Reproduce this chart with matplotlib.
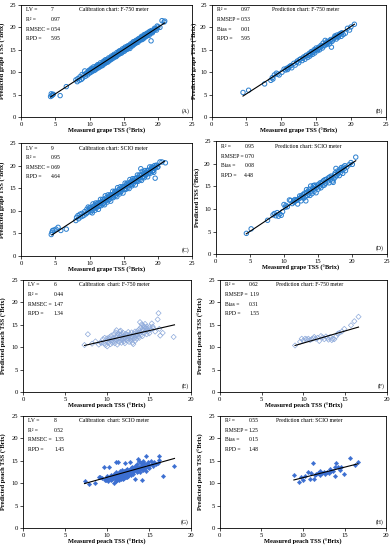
import matplotlib.pyplot as plt

plt.rcParams['font.family'] = ['Liberation Serif', 'DejaVu Serif']

# ---- (A) grape, calibration, F-750 ----
a_x = [4.3, 4.4, 4.5, 4.6, 4.7, 5.7, 6.6, 8.0, 8.2, 8.3, 8.5, 8.6, 8.8, 8.9, 9.0, 9.2, 9.3, 9.4, 9.6, 9.7,
       9.9, 10.0, 10.1, 10.2, 10.3, 10.4, 10.5, 10.6, 10.7, 10.8, 10.9, 11.0, 11.1, 11.2, 11.3, 11.4, 11.5,
       11.6, 11.7, 11.8, 11.9, 12.0, 12.1, 12.2, 12.3, 12.4, 12.5, 12.6, 12.7, 12.8, 12.9, 13.0, 13.1, 13.2,
       13.3, 13.4, 13.5, 13.6, 13.7, 13.8, 13.9, 14.0, 14.1, 14.2, 14.3, 14.4, 14.5, 14.6, 14.7, 14.8, 14.9,
       15.0, 15.1, 15.2, 15.3, 15.4, 15.5, 15.6, 15.7, 15.8, 15.9, 16.0, 16.1, 16.2, 16.3, 16.4, 16.5, 16.6,
       16.7, 16.8, 16.9, 17.0, 17.1, 17.2, 17.3, 17.4, 17.5, 17.6, 17.7, 17.8, 17.9, 18.0, 18.1, 18.2, 18.3,
       18.4, 18.5, 18.6, 18.7, 18.8, 18.9, 19.0, 19.1, 19.2, 19.4, 19.6, 19.8, 20.0, 20.3, 20.6, 20.9, 21.0,
       11.05, 12.05, 12.45, 13.05, 13.45, 13.85, 14.05, 14.25, 14.55, 14.85, 15.05, 15.25, 15.45, 15.65,
       15.85, 16.05, 16.25, 16.45, 16.65, 16.85, 17.05, 17.25, 17.45, 17.65, 17.85, 18.05, 18.25, 18.45,
       18.65, 18.85, 19.05, 19.25, 19.5, 19.7, 19.9, 10.45, 10.85, 11.25, 11.65, 12.25, 12.65, 13.25, 13.65,
       9.5, 9.8, 10.15]
a_y = [4.6, 5.2, 4.8, 5.0, 5.1, 4.8, 6.8, 8.3, 7.9, 8.6, 8.2, 9.0, 8.4, 9.5, 8.7, 9.4, 10.3, 9.1, 9.9, 9.4,
       10.4, 9.8, 10.6, 10.0, 10.9, 10.2, 10.7, 11.2, 10.4, 11.0, 10.6, 11.4, 10.9, 11.7, 11.0, 11.6, 11.2,
       12.1, 11.4, 11.9, 11.5, 12.4, 11.8, 12.3, 12.0, 12.8, 12.2, 12.6, 12.3, 13.2, 12.6, 13.1, 12.8, 13.6,
       13.0, 13.5, 13.2, 14.0, 13.4, 13.9, 13.5, 14.4, 13.8, 14.3, 14.0, 14.8, 14.2, 14.6, 14.3, 15.2, 14.6,
       15.0, 14.7, 15.6, 15.0, 15.4, 15.1, 15.9, 15.4, 15.8, 15.3, 16.3, 15.8, 16.2, 15.9, 16.8, 16.2, 16.5,
       16.4, 17.1, 16.6, 17.0, 16.7, 17.5, 17.1, 17.4, 17.2, 18.0, 17.3, 17.8, 17.5, 18.4, 17.8, 18.2, 18.0,
       18.7, 18.3, 18.6, 18.2, 19.1, 18.6, 17.0, 19.0, 18.8, 19.3, 19.6, 19.4, 20.1, 20.0, 21.5, 21.2, 21.4,
       11.3, 12.0, 12.5, 12.9, 13.7, 13.6, 14.1, 14.6, 14.4, 14.9, 15.3, 15.2, 15.7, 15.5,
       16.0, 16.0, 16.5, 16.3, 16.9, 16.8, 17.3, 17.2, 17.7, 17.6, 18.1, 18.0, 18.5, 18.4,
       18.9, 18.8, 19.3, 19.1, 19.8, 19.7, 20.3, 10.6, 10.8, 11.4, 11.7, 12.7, 12.9, 13.3, 13.8,
       9.7, 10.1, 10.3]
a_fit_x = [4.3, 21.0]
a_fit_y = [4.5, 21.0]

# ---- (B) grape, prediction, F-750 ----
b_x = [4.5, 5.3, 7.6, 8.5, 8.7, 9.0, 9.3, 9.7, 10.1, 10.4, 10.6, 10.9, 11.2, 11.5, 11.8, 12.0, 12.3, 12.5,
       12.8, 13.0, 13.2, 13.4, 13.6, 13.8, 14.0, 14.1, 14.3, 14.5, 14.7, 14.8, 15.0, 15.2, 15.4, 15.5, 15.7,
       15.9, 16.0, 16.2, 16.3, 16.5, 16.7, 16.9, 17.0, 17.2, 17.4, 17.6, 17.7, 17.9, 18.0, 18.2, 18.4, 18.6,
       18.7, 18.9, 19.2, 19.5, 19.8, 20.0, 20.5,
       12.6, 13.1, 13.5, 13.9, 14.2, 14.4, 14.6, 14.9, 15.1, 15.3, 15.6, 15.8, 16.1, 16.4, 16.6, 16.8, 17.1,
       17.3, 17.5, 17.8, 18.1, 18.3, 18.5, 11.0, 11.4, 10.8, 12.2, 9.5, 8.8]
b_y = [5.5, 6.0, 7.4, 8.2, 8.8, 9.4, 9.8, 9.4, 10.0, 10.7, 10.5, 10.6, 11.3, 11.0, 12.0, 11.6, 12.5, 12.1,
       13.0, 12.6, 13.4, 12.9, 13.8, 13.3, 14.2, 13.6, 14.6, 14.0, 15.0, 14.3, 15.4, 14.8, 15.6, 15.0, 16.0,
       15.4, 16.5, 15.9, 17.1, 16.2, 16.6, 16.3, 17.0, 15.6, 17.2, 17.6, 18.1, 17.4, 18.3, 17.8, 18.5, 18.0,
       18.8, 18.4, 18.7, 19.8, 19.4, 20.1, 20.7,
       12.8, 13.1, 13.6, 13.8, 14.1, 14.4, 14.5, 14.9, 15.1, 15.2, 15.5, 15.8, 16.0, 16.5, 16.9, 16.8, 17.3,
       16.9, 17.5, 17.9, 18.0, 18.3, 18.6, 11.0, 11.5, 10.9, 12.2, 9.6, 8.5]
b_fit_x = [4.5, 20.5]
b_fit_y = [4.7, 20.7]

# ---- (C) grape, calibration, SCIO ----
c_x = [4.4, 4.5, 4.6, 4.8, 5.1, 5.4, 5.8, 6.6,
       8.0, 8.1, 8.3, 8.4, 8.6, 8.7, 8.9, 9.0, 9.2, 9.3, 9.5, 9.6, 9.7, 9.8, 9.9, 10.0,
       10.1, 10.2, 10.3, 10.4, 10.5, 10.6, 10.7, 10.8, 10.9, 11.0, 11.1, 11.2, 11.3, 11.4, 11.5, 11.6, 11.7,
       11.8, 11.9, 12.0, 12.1, 12.2, 12.3, 12.4, 12.5, 12.6, 12.7, 12.8, 12.9, 13.0, 13.1, 13.2, 13.3, 13.4,
       13.5, 13.6, 13.7, 13.8, 13.9, 14.0, 14.1, 14.2, 14.3, 14.4, 14.5, 14.6, 14.7, 14.8, 14.9, 15.0, 15.1,
       15.2, 15.3, 15.4, 15.5, 15.6, 15.7, 15.8, 15.9, 16.0, 16.1, 16.2, 16.3, 16.4, 16.5, 16.6, 16.7, 16.8,
       16.9, 17.0, 17.1, 17.2, 17.3, 17.4, 17.5, 17.6, 17.7, 17.8, 17.9, 18.0, 18.1, 18.2, 18.3, 18.4, 18.5,
       18.6, 18.7, 18.8, 18.9, 19.0, 19.1, 19.2, 19.3, 19.4, 19.5, 19.6, 19.8, 20.0, 20.3, 20.6, 21.1,
       19.6, 17.5,
       10.15, 10.35, 10.55, 10.75, 10.95, 11.15, 11.35, 11.55, 11.75, 11.95, 12.15, 12.35, 12.55, 12.75,
       12.95, 13.15, 13.35, 13.55, 13.75, 13.95, 14.15, 14.35, 14.55, 14.75, 14.95, 15.15, 15.35, 15.55,
       15.75, 15.95, 16.15, 16.35, 16.55, 16.75, 16.95, 17.15, 17.35, 17.55, 17.75, 17.95, 18.15, 18.35,
       18.55, 18.75, 18.95, 19.15, 19.35, 19.55, 19.75, 19.95]
c_y = [4.7, 5.2, 5.6, 5.7, 5.9, 6.3, 5.6, 5.9,
       7.8, 8.5, 8.9, 8.2, 9.2, 8.6, 9.4, 8.8, 9.0, 9.8, 9.3, 10.3, 9.6, 10.8, 9.9, 10.6,
       10.7, 9.7, 10.5, 9.5, 11.5, 10.4, 11.1, 10.1, 11.7, 10.6, 11.1, 11.7, 10.3, 11.7, 11.2, 12.5, 11.1,
       11.9, 12.5, 11.5, 12.3, 11.3, 13.3, 12.2, 12.9, 11.9, 13.5, 12.4, 12.9, 13.5, 12.1, 13.5, 13.0, 14.3,
       12.9, 13.7, 14.3, 13.3, 14.1, 13.1, 15.1, 14.0, 14.7, 13.7, 15.3, 14.2, 14.7, 15.3, 13.9, 15.3, 14.8,
       16.1, 14.7, 15.5, 16.1, 15.1, 15.9, 14.9, 16.9, 15.8, 16.5, 15.5, 17.1, 16.0, 16.5, 17.1, 15.7, 17.1,
       16.6, 17.9, 16.5, 17.3, 17.9, 16.9, 17.7, 16.7, 18.7, 17.6, 18.3, 17.3, 18.9, 17.8, 18.3, 18.9, 17.5,
       18.9, 18.4, 19.7, 18.3, 19.1, 19.7, 18.7, 19.5, 18.5, 20.0, 19.4, 20.1, 19.7, 20.8, 20.8, 20.6,
       17.2, 19.3,
       10.35, 10.05, 10.95, 10.65, 10.95, 11.45, 10.95, 11.65, 11.95, 11.65, 12.55, 12.25, 12.55, 13.05,
       12.55, 13.25, 13.55, 13.25, 14.15, 13.85, 14.15, 14.65, 14.15, 14.85, 15.15, 14.85, 15.75, 15.45,
       15.75, 16.25, 15.75, 16.45, 16.75, 16.45, 17.35, 17.05, 17.35, 17.85, 17.35, 18.05, 18.35, 18.05,
       18.95, 18.65, 18.95, 19.45, 18.95, 19.65, 19.95, 19.65]
c_fit_x = [4.5, 21.0]
c_fit_y = [4.6, 21.0]

# ---- (D) grape, prediction, SCIO ----
d_x = [4.5, 5.2, 7.6, 8.4, 8.6, 8.8, 9.0, 9.2, 9.4, 9.6, 9.8, 10.0, 10.2, 10.3, 10.5, 10.8, 11.0, 11.2,
       11.4, 11.5, 11.6, 11.8, 11.9, 12.0, 12.2, 12.3, 12.4, 12.5, 12.7, 12.8, 12.9, 13.0, 13.1, 13.2, 13.3,
       13.4, 13.5, 13.6, 13.7, 13.8, 13.9, 14.0, 14.1, 14.2, 14.3, 14.4, 14.5, 14.6, 14.7, 14.8, 14.9, 15.0,
       15.1, 15.2, 15.3, 15.4, 15.5, 15.6, 15.7, 15.8, 16.0, 16.1, 16.2, 16.4, 16.5, 16.6, 16.7, 16.8, 17.0,
       17.1, 17.2, 17.3, 17.4, 17.5, 17.6, 17.7, 17.8, 17.9, 18.0, 18.1, 18.2, 18.3, 18.4, 18.5, 18.6, 18.7,
       18.8, 18.9, 19.0, 19.2, 19.5, 19.8, 20.0, 20.5, 14.5, 13.3, 12.6, 15.9, 16.9, 17.5]
d_y = [4.6, 5.6, 7.5, 8.7, 9.0, 8.5, 9.2, 8.4, 8.9, 8.6, 9.4, 11.0, 10.4, 10.8, 10.5, 12.0, 11.9, 11.2,
       11.8, 11.5, 12.1, 11.9, 12.0, 11.1, 12.3, 12.9, 12.5, 11.8, 12.6, 13.2, 12.4, 13.5, 12.7, 11.8, 13.6,
       13.0, 13.9, 13.3, 14.4, 13.0, 15.1, 14.0, 13.4, 14.6, 15.2, 13.9, 14.5, 15.0, 13.6, 14.8, 15.3, 14.4,
       15.5, 15.0, 15.8, 14.7, 15.6, 16.0, 15.2, 16.3, 16.5, 15.7, 16.6, 16.2, 16.9, 15.8, 17.1, 16.5, 17.0,
       16.2, 15.9, 16.7, 17.6, 18.0, 19.0, 17.4, 18.4, 17.8, 18.3, 17.4, 18.8, 18.1, 19.2, 18.6, 17.9, 19.3,
       18.9, 19.6, 18.5, 19.3, 19.8, 20.3, 19.9, 21.5, 15.3, 14.3, 13.0, 15.3, 17.3, 17.1]
d_fit_x = [4.5, 20.5]
d_fit_y = [4.5, 20.7]

# ---- (E) peach, calibration, F-750 ----
e_x = [7.3, 7.7, 8.2, 8.6, 9.0, 9.3, 9.5, 9.6, 9.7, 9.8, 9.9, 10.0, 10.0, 10.1, 10.2, 10.3, 10.4, 10.5,
       10.5, 10.6, 10.7, 10.8, 10.8, 10.9, 11.0, 11.0, 11.1, 11.1, 11.2, 11.2, 11.3, 11.3, 11.4, 11.4, 11.5,
       11.5, 11.6, 11.6, 11.7, 11.7, 11.8, 11.8, 11.9, 11.9, 12.0, 12.0, 12.1, 12.1, 12.2, 12.2, 12.3, 12.4,
       12.4, 12.5, 12.6, 12.6, 12.7, 12.8, 12.8, 12.9, 13.0, 13.0, 13.1, 13.1, 13.2, 13.2, 13.3, 13.3, 13.4,
       13.5, 13.5, 13.6, 13.7, 13.7, 13.8, 13.8, 13.9, 13.9, 14.0, 14.0, 14.1, 14.1, 14.2, 14.2, 14.3, 14.3,
       14.4, 14.5, 14.5, 14.6, 14.7, 14.7, 14.8, 14.9, 15.0, 15.0, 15.2, 15.3, 15.5, 15.7, 16.0, 16.1, 16.2,
       16.3, 16.6, 17.9, 12.5, 11.0, 10.3, 9.2, 12.9, 13.6, 14.4, 11.6, 15.4]
e_y = [10.5, 12.9, 10.8, 11.3, 10.6, 11.0, 11.8, 10.9, 12.1, 10.5, 11.4, 12.0, 10.2, 11.7, 11.1, 12.3,
       10.7, 11.5, 12.6, 11.0, 12.0, 11.4, 12.9, 10.9, 12.2, 13.3, 11.6, 13.8, 12.5, 10.6, 13.1, 11.9, 12.8,
       11.2, 13.5, 12.1, 11.5, 12.7, 13.0, 11.0, 12.4, 11.7, 13.2, 12.0, 11.3, 12.6, 10.9, 12.2, 11.8, 13.0,
       12.4, 11.5, 12.8, 11.9, 12.5, 11.2, 12.9, 12.1, 11.6, 13.3, 12.4, 11.0, 12.7, 10.7, 13.0, 12.0, 11.4,
       13.5, 12.6, 12.9, 11.9, 13.6, 12.4, 13.2, 14.0, 12.1, 13.1, 15.6, 14.4, 12.7, 13.5, 15.1, 14.0, 12.5,
       13.8, 14.8, 13.2, 14.3, 15.2, 13.7, 14.6, 12.9, 14.1, 13.6, 14.5, 13.1, 14.0, 15.3, 14.2, 13.5, 16.2,
       17.6, 14.1, 12.6, 13.2, 12.3, 13.4, 11.8, 11.9, 11.1, 12.2, 12.8, 14.6, 13.7, 14.6]
e_fit_x = [7.3, 18.0]
e_fit_y = [10.4, 15.0]

# ---- (F) peach, prediction, F-750 ----
f_x = [9.0, 9.6, 9.8, 10.0, 10.2, 10.4, 10.6, 10.8, 11.0, 11.2, 11.3, 11.5, 11.7, 11.9, 12.1, 12.3, 12.5,
       12.7, 12.9, 13.0, 13.2, 13.4, 13.5, 13.7, 13.9, 14.1, 14.3, 14.6, 14.9, 15.7, 16.1, 16.6]
f_y = [10.4, 11.2, 11.9, 11.5, 11.9, 11.8, 11.9, 11.6, 11.8, 12.0, 12.3, 11.9, 12.1, 11.4, 12.5, 12.2,
       11.8, 12.4, 12.1, 11.7, 12.3, 11.6, 11.9, 11.8, 12.4, 13.0, 13.2, 13.5, 14.1, 14.9, 15.8, 16.8]
f_fit_x = [9.0, 16.6]
f_fit_y = [10.4, 14.5]

# ---- (G) peach, calibration, SCIO ----
g_x = [7.3, 7.8, 8.6, 9.0, 9.4, 9.6, 9.7, 9.8, 9.9, 10.0, 10.1, 10.2, 10.3, 10.4, 10.5, 10.6, 10.7, 10.8,
       10.8, 10.9, 11.0, 11.0, 11.1, 11.1, 11.2, 11.2, 11.3, 11.3, 11.4, 11.4, 11.5, 11.5, 11.6, 11.6, 11.7,
       11.7, 11.8, 11.8, 11.9, 11.9, 12.0, 12.0, 12.1, 12.1, 12.2, 12.2, 12.3, 12.3, 12.4, 12.4, 12.5, 12.5,
       12.6, 12.6, 12.7, 12.7, 12.8, 12.8, 12.9, 12.9, 13.0, 13.0, 13.1, 13.1, 13.2, 13.2, 13.3, 13.3, 13.4,
       13.4, 13.5, 13.5, 13.6, 13.6, 13.7, 13.7, 13.8, 13.8, 13.9, 13.9, 14.0, 14.0, 14.1, 14.1, 14.2, 14.2,
       14.3, 14.3, 14.4, 14.4, 14.5, 14.6, 14.6, 14.7, 14.8, 14.9, 15.0, 15.0, 15.2, 15.3, 15.5, 15.6, 15.8,
       16.0, 16.1, 16.2, 16.6, 17.9, 10.0, 10.6, 11.4, 12.0, 12.4, 10.9, 9.2]
g_y = [10.4, 9.8, 10.0, 11.3, 11.2, 13.5, 10.6, 11.0, 10.8, 11.5, 10.4, 13.7, 11.1, 10.7, 11.8, 10.9,
       11.4, 10.0, 12.1, 11.0, 14.8, 11.6, 10.5, 12.4, 11.1, 10.8, 14.8, 11.7, 12.2, 10.6, 11.4, 12.6, 11.0,
       12.0, 11.8, 13.0, 11.3, 12.4, 11.9, 10.9, 12.7, 11.6, 14.5, 12.1, 11.4, 12.9, 12.3, 11.8, 13.2, 12.0,
       12.6, 11.5, 12.2, 13.0, 14.6, 12.5, 11.9, 13.3, 12.8, 12.2, 13.6, 12.5, 12.9, 12.0, 13.2, 12.6, 11.0,
       13.8, 12.9, 13.3, 12.4, 13.5, 14.2, 13.0, 15.3, 12.7, 13.6, 14.9, 13.2, 12.5, 14.4, 13.8, 10.7, 13.1,
       14.0, 15.0, 13.5, 12.9, 14.5, 13.9, 13.3, 16.0, 12.7, 14.2, 13.7, 14.8, 14.1, 13.4, 15.0, 14.3, 13.8,
       14.6, 14.3, 14.4, 16.1, 15.2, 11.5, 13.9, 10.9, 11.5, 11.5, 11.2, 11.4, 11.9, 11.4]
g_fit_x = [7.3, 18.0]
g_fit_y = [9.9, 15.5]

# ---- (H) peach, prediction, SCIO ----
h_x = [8.9, 9.5, 9.7, 10.0, 10.2, 10.6, 10.8, 11.0, 11.2, 11.3, 11.4, 11.6, 11.8, 12.0, 12.1, 12.3, 12.5,
       12.7, 12.9, 13.1, 13.3, 13.4, 13.6, 13.8, 13.9, 14.0, 14.2, 14.4, 14.6, 14.9, 15.7, 16.2, 16.6]
h_y = [11.7, 10.3, 11.4, 10.8, 11.5, 12.4, 11.0, 12.2, 14.5, 11.0, 11.8, 12.0, 12.3, 11.9, 12.8, 12.2,
       12.4, 12.1, 12.5, 12.2, 13.2, 12.8, 12.6, 11.6, 13.5, 14.4, 13.6, 13.0, 13.5, 12.0, 15.5, 14.1, 14.8]
h_fit_x = [8.9, 16.6]
h_fit_y = [10.7, 14.3]

cal_stats = ["LV =", "R\u00b2 =", "RMSEC =", "RPD ="]
pred_stats = ["R\u00b2 =", "RMSEP =", "Bias =", "RPD ="]

panels = [
    # rect, x, y, fit x, fit y, marker, stats labels, values, title, tag, xlabel, ylabel, xmax, value col x, ylabel x
    ([0.054, 0.787, 0.436, 0.204], a_x, a_y, a_fit_x, a_fit_y, 'circle', cal_stats,
     ["7", "0.97", "0.54", "5.95"], "Calibration chart: F-750 meter", "(A)",
     "Measured grape TSS (\u00b0Brix)", "Predicted grape TSS (\u00b0Brix)", 25, 0.172, -0.088),
    ([0.540, 0.787, 0.444, 0.204], b_x, b_y, b_fit_x, b_fit_y, 'circle', pred_stats,
     ["0.97", "0.53", "0.01", "5.95"], "Prediction chart: F-750 meter", "(B)",
     "Measured grape TSS (\u00b0Brix)", "Predicted grape TSS (\u00b0Brix)", 25, 0.165, -0.08),
    ([0.054, 0.535, 0.436, 0.205], c_x, c_y, c_fit_x, c_fit_y, 'circle', cal_stats,
     ["9", "0.95", "0.69", "4.64"], "Calibration chart: SCIO meter", "(C)",
     "Measured grape TSS (\u00b0Brix)", "Predicted grape TSS (\u00b0Brix)", 25, 0.172, -0.088),
    ([0.550, 0.538, 0.436, 0.205], d_x, d_y, d_fit_x, d_fit_y, 'circle', pred_stats,
     ["0.95", "0.70", "0.08", "4.48"], "Prediction chart: SCIO meter", "(D)",
     "Measured grape TSS (\u00b0Brix)", "Predicted TSS (\u00b0Brix)", 25, 0.168, -0.088),
    ([0.059, 0.287, 0.429, 0.204], e_x, e_y, e_fit_x, e_fit_y, 'open_diamond', cal_stats,
     ["6", "0.44", "1.47", "1.34"], "Calibration  chart: F-750 meter", "(E)",
     "Measured peach TSS (\u00b0Brix)", "Predicted peach TSS (\u00b0Brix)", 20, 0.18, -0.095),
    ([0.561, 0.287, 0.426, 0.204], f_x, f_y, f_fit_x, f_fit_y, 'open_diamond', pred_stats,
     ["0.62", "1.19", "0.31", "1.55"], "Prediction chart: F-750 meter", "(F)",
     "Measured peach TSS (\u00b0Brix)", "Predicted peach TSS (\u00b0Brix)", 20, 0.175, -0.095),
    ([0.059, 0.040, 0.429, 0.204], g_x, g_y, g_fit_x, g_fit_y, 'filled_diamond', cal_stats,
     ["8", "0.52", "1.35", "1.45"], "Calibration  chart: SCIO meter", "(G)",
     "Measured peach TSS (\u00b0Brix)", "Predicted peach TSS (\u00b0Brix)", 20, 0.185, -0.095),
    ([0.561, 0.040, 0.424, 0.204], h_x, h_y, h_fit_x, h_fit_y, 'filled_diamond', pred_stats,
     ["0.55", "1.25", "0.15", "1.48"], "Prediction chart: SCIO meter", "(H)",
     "Measured peach TSS (\u00b0Brix)", "Predicted peach TSS (\u00b0Brix)", 20, 0.175, -0.095),
]

fig = plt.figure(figsize=(3.92, 5.5), dpi=100)

for rect, xs, ys, fx, fy, mk, labels, values, title, tag, xlab, ylab, xmax, valx, ylx in panels:
    ax = fig.add_axes(rect)
    if mk == 'circle':
        ax.scatter(xs, ys, s=10, marker='o', facecolors='none', edgecolors='#2a7fcf', linewidths=0.7, zorder=2)
    elif mk == 'open_diamond':
        ax.scatter(xs, ys, s=7, marker='D', facecolors='none', edgecolors='#8eaadb', linewidths=0.5, zorder=2)
    else:
        ax.scatter(xs, ys, s=5, marker='D', facecolors='#3c6fd1', edgecolors='#3c6fd1', linewidths=0.3, zorder=2)
    ax.plot(fx, fy, color='black', linewidth=0.8, zorder=3)

    ax.set_xlim(0, xmax)
    ax.set_ylim(0, 25)
    ax.set_xticks(range(0, xmax + 1, 5))
    ax.set_yticks(range(0, 26, 5))
    ax.tick_params(labelsize=4.8, length=2, width=0.5, direction='out', pad=1.5)
    for sp in ax.spines.values():
        sp.set_linewidth(0.6)

    ax.set_xlabel(xlab, fontsize=4.6, fontweight='bold')
    ax.set_ylabel(ylab, fontsize=4.6, fontweight='bold')
    ax.xaxis.set_label_coords(0.5, -0.1)
    ax.yaxis.set_label_coords(ylx, 0.5)

    rows = [0.955, 0.87, 0.785, 0.70]
    for lab, val, yy in zip(labels, values, rows):
        ax.text(0.03, yy, lab, transform=ax.transAxes, fontsize=4.1, va='center')
        ax.text(valx, yy, val, transform=ax.transAxes, fontsize=4.1, va='center')
    ax.text(0.54, 0.955, title, transform=ax.transAxes, fontsize=4.1, va='center', ha='center')
    ax.text(0.985, 0.05, tag, transform=ax.transAxes, fontsize=4.1, va='center', ha='right')

fig.savefig("out.png", dpi=100)
